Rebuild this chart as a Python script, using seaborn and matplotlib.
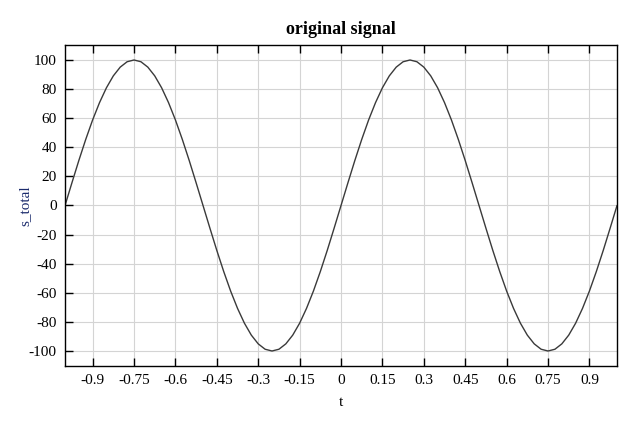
import numpy as np
import pandas as pd
import matplotlib
matplotlib.use("Agg")
import matplotlib.pyplot as plt
import seaborn as sns

# --- data (t step 0.025) ---
t_values = [round(-1 + 0.025 * i, 3) for i in range(81)]
s_total = ([0, 15.6, 30.9, 45.4, 58.8, 70.7, 80.9, 89.1, 95.1, 98.8,
            100, 98.8, 95.1, 89.1, 80.9, 70.7, 58.8, 45.4, 30.9, 15.6,
            0, -15.6, -30.9, -45.4, -58.8, -70.7, -80.9, -89.1, -95.1, -98.8,
            -100, -98.8, -95.1, -89.1, -80.9, -70.7, -58.8, -45.4, -30.9, -15.6]
           + [0, 15.6, 30.9, 45.4, 58.8, 70.7, 80.9, 89.1, 95.1, 98.8,
              100, 98.8, 95.1, 89.1, 80.9, 70.7, 58.8, 45.4, 30.9, 15.6,
              0, -15.6, -30.9, -45.4, -58.8, -70.7, -80.9, -89.1, -95.1, -98.8,
              -100, -98.8, -95.1, -89.1, -80.9, -70.7, -58.8, -45.4, -30.9, -15.6,
              0])
x_ticks = [-0.9, -0.75, -0.6, -0.45, -0.3, -0.15, 0, 0.15, 0.3, 0.45, 0.6, 0.75, 0.9]
x_tick_labels = ["-0.9", "-0.75", "-0.6", "-0.45", "-0.3", "-0.15", "0",
                 "0.15", "0.3", "0.45", "0.6", "0.75", "0.9"]
y_ticks = [100, 80, 60, 40, 20, 0, -20, -40, -60, -80, -100]

df = pd.DataFrame({"t": t_values, "s_total": s_total})

sns.set_theme(style="white")
plt.rcParams.update({
    "font.family": ["Liberation Serif", "DejaVu Serif"],
    "font.size": 11,
    "axes.unicode_minus": False,
    "text.color": "black",
    "axes.labelcolor": "black",
})

fig = plt.figure(figsize=(6.4, 4.23), dpi=100)
ax = fig.add_axes([0.1016, 0.1348, 0.8625, 0.7588])

sns.lineplot(data=df, x="t", y="s_total", color="#3a3a3a", linewidth=1.0, ax=ax)

ax.set_xlim(-1, 1)
ax.set_ylim(-110.3, 110.3)
ax.set_xticks(x_ticks)
ax.set_xticklabels(x_tick_labels)
ax.set_yticks(y_ticks)
ax.grid(True, color="#d4d4d4", linewidth=0.8)
ax.tick_params(direction="in", length=6, width=1, colors="black",
               labelsize=11, bottom=True, left=True, top=True, right=False, pad=6)
for s in ax.spines.values():
    s.set_color("black")
    s.set_linewidth(1.0)

ax.set_title("original signal", fontsize=13, fontweight="bold", pad=8, color="black")
ax.set_xlabel("t", fontsize=11, labelpad=6)
ax.set_ylabel("s_total", fontsize=11, color="#1a2a6c")
ax.yaxis.set_label_coords(-0.06, 0.5)

fig.savefig("out.png", dpi=100)
